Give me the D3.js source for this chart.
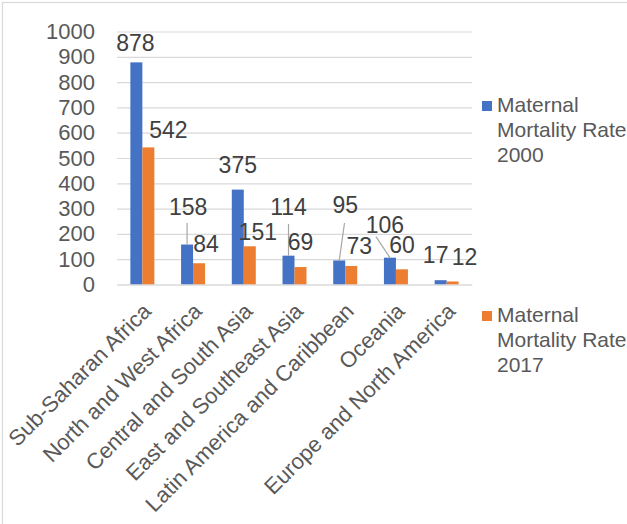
<!DOCTYPE html>
<html>
<head>
<meta charset="utf-8">
<script src="https://cdn.jsdelivr.net/npm/d3@7/dist/d3.min.js"></script>
<style>
  html, body { margin: 0; padding: 0; background: #ffffff; }
  svg { display: block; font-family: "Liberation Sans", Arial, sans-serif; }
</style>
</head>
<body>
<svg id="chart" width="627" height="524"></svg>
<script>
// Maternal mortality ratio by region (deaths per 100,000 live births)
const categories = [
  "Sub-Saharan Africa",
  "North and West Africa",
  "Central and South Asia",
  "East and Southeast Asia",
  "Latin America and Caribbean",
  "Oceania",
  "Europe and North America"
];
const rate2000 = [878, 158, 375, 114, 95, 106, 17];
const rate2017 = [542, 84, 151, 69, 73, 60, 12];
const yTicks = [0, 100, 200, 300, 400, 500, 600, 700, 800, 900, 1000];
const seriesNames = ["Maternal Mortality Rate 2000", "Maternal Mortality Rate 2017"];
const seriesColors = ["#4472C4", "#ED7D31"];

// Data label placement: [dx, dy] from the top centre of each bar
const labelShift = [
  [[-1, -11], [1, -29.5], [0, -16.6], [0, -40.7], [6, -47.5], [-5, -24.4], [-5, -17.5]],
  [[20, -9.4], [7, -11], [8, -6.3], [0, -17], [8, -12], [0, -16], [12, -16.5]]
];
// Leader lines for labels lifted away from their bar: start offset from label anchor
const leaderStart = [
  { 1: [-1, 8], 3: [0, 9], 4: [-0.7, 10], 5: [-9, 3.4] },
  {}
];

const svg = d3.select("#chart");
const textColor = "#595959";
const gridColor = "#d9d9d9";

// Chart area frame
svg.append("rect")
  .attr("x", 2.5).attr("y", 2.5)
  .attr("width", 700).attr("height", 600)
  .attr("fill", "none").attr("stroke", gridColor).attr("stroke-width", 1.2);

const plot = { left: 117, right: 472, top: 31.5, bottom: 284.5 };

const x0 = d3.scaleBand()
  .domain(categories)
  .range([plot.left, plot.right])
  .paddingInner(0.527)
  .paddingOuter(0.2635);

const x1 = d3.scaleBand()
  .domain([0, 1])
  .range([0, x0.bandwidth()]);

const y = d3.scaleLinear()
  .domain([0, 1000])
  .range([plot.bottom, plot.top]);

// Horizontal gridlines and value axis labels
const yAxis = d3.axisLeft(y)
  .tickValues(yTicks)
  .tickSize(-(plot.right - plot.left))
  .tickPadding(22)
  .tickFormat(d3.format("d"));

const gy = svg.append("g")
  .attr("transform", `translate(${plot.left},0)`)
  .call(yAxis);
gy.select(".domain").remove();
gy.selectAll(".tick line").attr("stroke", gridColor).attr("stroke-width", 1.2);
gy.selectAll(".tick text")
  .attr("fill", textColor)
  .style("font-size", "22px")
  .attr("font-family", "Liberation Sans, Arial, sans-serif");

// Bars
const series = [rate2000, rate2017];
series.forEach((vals, s) => {
  svg.append("g").selectAll("rect")
    .data(vals)
    .join("rect")
    .attr("x", (d, i) => x0(categories[i]) + x1(s))
    .attr("y", d => y(d))
    .attr("width", x1.bandwidth())
    .attr("height", d => y(0) - y(d))
    .attr("fill", seriesColors[s]);
});

// Category axis labels, rotated
const gx = svg.append("g")
  .attr("transform", `translate(0,${plot.bottom})`)
  .call(d3.axisBottom(x0).tickSize(0).tickPadding(0));
gx.select(".domain").attr("stroke", gridColor).attr("stroke-width", 1.2);
gx.selectAll(".tick text")
  .attr("fill", textColor)
  .attr("font-family", "Liberation Sans, Arial, sans-serif")
  .style("font-size", "22px")
  .attr("text-anchor", "end")
  .attr("dy", null)
  .attr("y", null)
  .attr("transform", "translate(10,28) rotate(-45)");

// Data labels with leader lines
series.forEach((vals, s) => {
  const g = svg.append("g");
  vals.forEach((v, i) => {
    const bx = x0(categories[i]) + x1(s) + x1.bandwidth() / 2;
    const by = y(v);
    const lx = bx + labelShift[s][i][0];
    const ly = by + labelShift[s][i][1];
    const lead = leaderStart[s][i];
    if (lead) {
      g.append("line")
        .attr("x1", lx + lead[0]).attr("y1", ly + lead[1])
        .attr("x2", bx).attr("y2", by)
        .attr("stroke", "#a6a6a6").attr("stroke-width", 1.2);
    }
    g.append("text")
      .attr("x", lx).attr("y", ly)
      .attr("text-anchor", "middle")
      .attr("fill", "#404040")
      .style("font-size", "23px")
      .text(v);
  });
});

// Legend with wrapped series names
const legendTop = [101, 311];
seriesNames.forEach((name, s) => {
  const g = svg.append("g");
  g.append("rect")
    .attr("x", 482).attr("y", legendTop[s])
    .attr("width", 10).attr("height", 10)
    .attr("fill", seriesColors[s]);
  const t = g.append("text")
    .attr("fill", textColor)
    .style("font-size", "21px");
  const words = name.split(" ");
  const lines = [];
  let cur = "";
  const probe = t.append("tspan");
  words.forEach(w => {
    const trial = cur ? cur + " " + w : w;
    probe.text(trial);
    if (cur && probe.node().getComputedTextLength() > 150) {
      lines.push(cur);
      cur = w;
    } else {
      cur = trial;
    }
  });
  lines.push(cur);
  probe.remove();
  lines.forEach((ln, k) => {
    t.append("tspan")
      .attr("x", 497)
      .attr("y", legendTop[s] + 11 + k * 25)
      .text(ln);
  });
});
</script>
</body>
</html>
